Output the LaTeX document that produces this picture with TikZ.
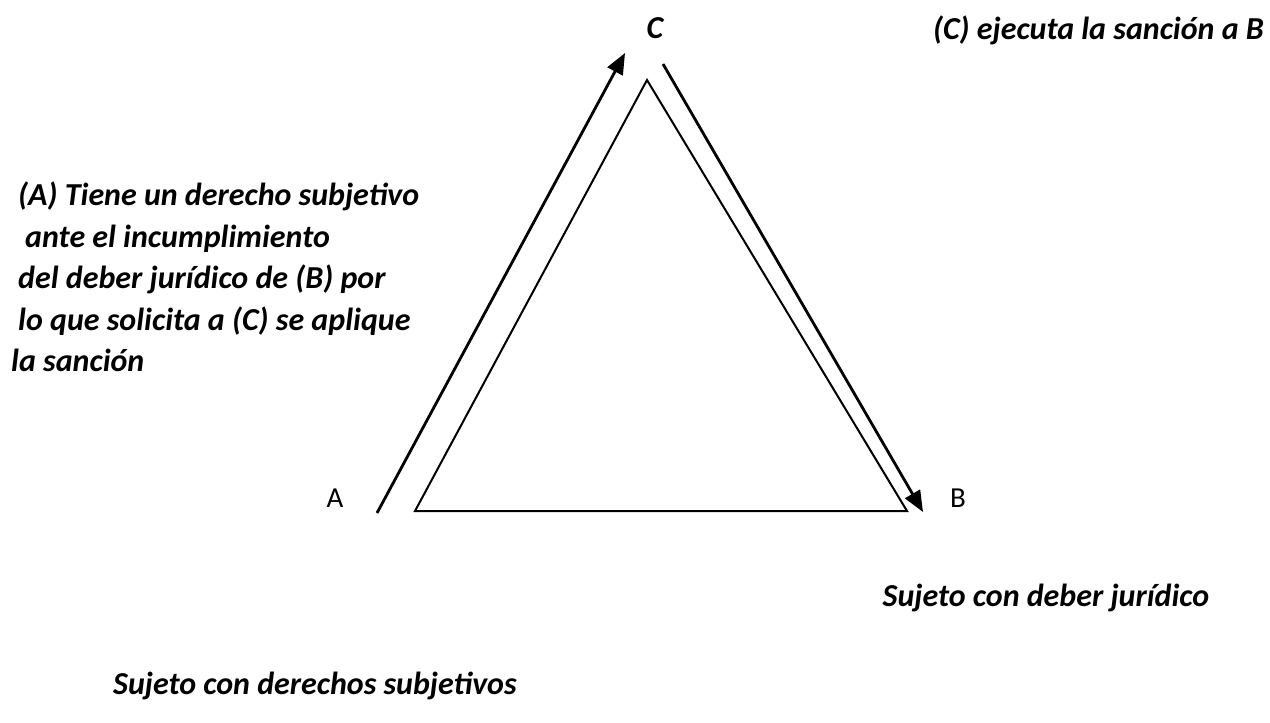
\documentclass[tikz,border=0pt]{standalone}
\usepackage{fontspec}
\setmainfont{Carlito}
\usetikzlibrary{arrows.meta}
\begin{document}
\begin{tikzpicture}[x=1pt,y=-1pt,
  lbl/.style={font=\fontsize{32}{41.5}\selectfont\bfseries\itshape, inner sep=0pt},
  plain/.style={font=\fontsize{29}{35}\selectfont, inner sep=0pt},
  arr/.style={line width=2.8pt, -{Triangle[length=21pt,width=17pt]}},
  tri/.style={line width=2pt, line join=miter}]
\useasboundingbox (0,0) rectangle (1270,723);
\coordinate (P1) at (647,80);
\coordinate (P2) at (415,511);
\coordinate (P3) at (907,511);
\draw[tri] (P1) -- (P2) -- (P3) -- cycle;
\coordinate (a0) at (377,513);
\coordinate (a1) at (625,53);
\draw[arr] (a0) -- (a1);
\coordinate (b0) at (663,64);
\coordinate (b1) at (923,512);
\draw[arr] (b0) -- (b1);
\node[lbl] (C) at (655,28) {C};
\node[lbl, anchor=east] (ejec) at (1264,30) {(C) ejecuta la sanción a B};
\node[plain] (A) at (335,498) {A};
\node[plain] (B) at (958,498) {B};
\node[lbl, anchor=north west, align=left] (left) at (11,182) {\hspace*{7pt}(A) Tiene un derecho subjetivo\\\hspace*{14pt}ante el incumplimiento\\\hspace*{7pt}del deber jurídico de (B) por\\\hspace*{7pt}lo que solicita a (C) se aplique\\la sanción};
\node[lbl] (deber) at (1046,598) {Sujeto con deber jurídico};
\node[lbl] (derechos) at (315,686) {Sujeto con derechos subjetivos};
\end{tikzpicture}
\end{document}
